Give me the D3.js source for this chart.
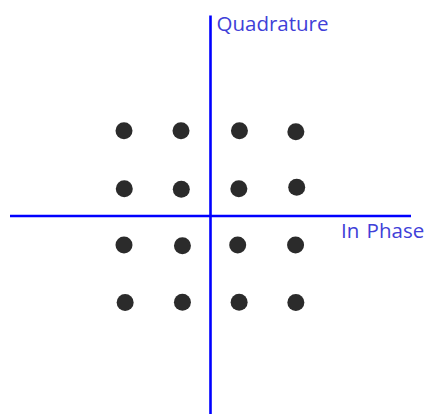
<!DOCTYPE html>
<html>
<head>
<meta charset="utf-8">
<script src="https://cdn.jsdelivr.net/npm/d3@7"></script>
<style>
  body { margin: 0; background: #fff; }
  text { font-family: "Open Sans", "Noto Sans", sans-serif; white-space: pre; }
</style>
</head>
<body>
<svg id="chart"></svg>
<script>
    // 16-QAM constellation, values (slightly off-grid like the original)
    var inPhase    = [-3.02, -1.03, 1.01, 2.98,  -3.01, -1.02, 0.99, 3.01,  -3.02, -0.98, 0.95, 2.97,  -2.98, -0.98, 1.00, 2.98];
    var quadrature = [ 2.98,  2.98, 2.98, 2.94,   0.95,  0.93, 0.95, 1.00,  -1.01, -1.04, -1.01, -1.01, -3.02, -3.01, -3.01, -3.02];
    var axisLabels = ["In Phase", "Quadrature"];

    var width = 427, height = 414;

    var svg = d3.select("#chart")
        .attr("width", width)
        .attr("height", height);

    var xS = d3.scaleLinear().domain([-7, 7]).range([10, 411]);
    var yS = d3.scaleLinear().domain([-7, 7]).range([416.5, 15.5]);

    // axes: plain blue cross
    svg.append("line")
        .attr("x1", xS(-7)).attr("x2", xS(7))
        .attr("y1", yS(0)).attr("y2", yS(0))
        .attr("stroke", "#0000ff").attr("stroke-width", 2.6);

    svg.append("line")
        .attr("x1", xS(0)).attr("x2", xS(0))
        .attr("y1", yS(7)).attr("y2", height)
        .attr("stroke", "#0000ff").attr("stroke-width", 2.6);

    svg.append("text")
        .attr("x", xS(0) + 6)
        .attr("y", 30.5)
        .attr("fill", "#4040d8")
        .attr("font-size", 20.5)
        .text(axisLabels[1]);

    svg.append("text")
        .attr("x", 341)
        .attr("y", 238)
        .attr("fill", "#4040d8")
        .attr("font-size", 20.5)
        .attr("word-spacing", 2)
        .text(axisLabels[0]);

    var points = inPhase.map(function(d, i) { return {i: d, q: quadrature[i]}; });

    svg.selectAll(".pt")
        .data(points)
        .enter()
        .append("circle")
            .attr("class", "pt")
            .attr("cx", function(d) { return xS(d.i); })
            .attr("cy", function(d) { return yS(d.q); })
            .attr("r", 8.5)
            .attr("fill", "#2b2b2b");
</script>
</body>
</html>
